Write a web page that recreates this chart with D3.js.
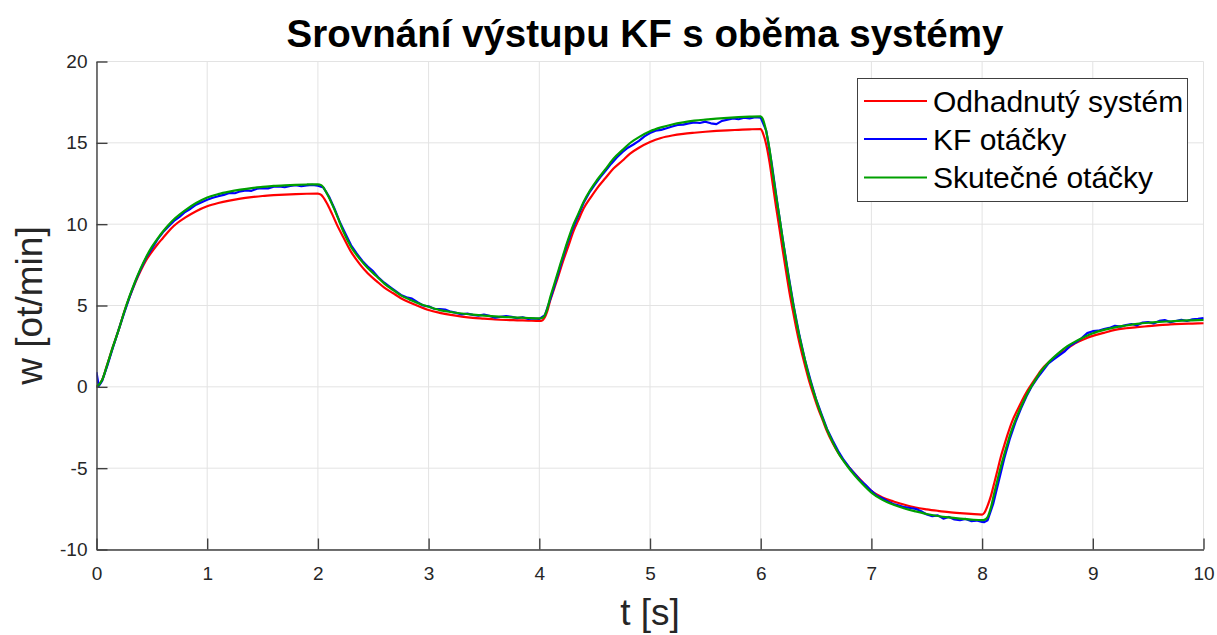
<!DOCTYPE html>
<html>
<head>
<meta charset="utf-8">
<script src="https://cdn.jsdelivr.net/npm/d3@7"></script>
<style>
  html, body { margin: 0; padding: 0; background: #ffffff; }
  svg { display: block; font-family: "Liberation Sans", Arial, Helvetica, sans-serif; }
</style>
</head>
<body>
<svg id="chart" width="1217" height="635"></svg>
<script>
// ---- texts and ticks ----
const chartTitle = "Srovnání výstupu KF s oběma systémy";
const xLabel = "t [s]";
const yLabel = "w [ot/min]";
const xTicks = [0, 1, 2, 3, 4, 5, 6, 7, 8, 9, 10];
const yTicks = [-10, -5, 0, 5, 10, 15, 20];
const seriesNames = ["Odhadnutý systém", "KF otáčky", "Skutečné otáčky"];
const seriesColors = ["#ff0000", "#0000ff", "#00a000"];

// ---- model output and measured speed (time in s, speed in ot/min) ----
const modelTime = [
  0, 0.05, 0.1, 0.15, 0.2, 0.25, 0.3, 0.35, 0.4, 0.45, 0.5, 0.55, 0.6, 0.65, 0.7, 0.8, 0.9, 1.0, 1.1, 1.2, 1.3, 1.4, 1.5, 1.6, 1.7, 1.8, 1.9, 2.0,
  2.03, 2.08, 2.13, 2.18, 2.23, 2.3, 2.38, 2.45, 2.53, 2.6, 2.68, 2.75, 2.83, 2.9, 3.0, 3.1, 3.2, 3.3, 3.4, 3.5, 3.6, 3.7, 3.8, 3.9, 4.0,
  4.03, 4.07, 4.1, 4.13, 4.16, 4.19, 4.22, 4.26, 4.31, 4.35, 4.4, 4.46, 4.52, 4.6, 4.67, 4.75, 4.82, 4.9, 5.0, 5.1, 5.2, 5.3, 5.4, 5.5, 5.6, 5.7, 5.8, 5.9, 6.0,
  6.02, 6.05, 6.08, 6.11, 6.14, 6.17, 6.2, 6.23, 6.26, 6.29, 6.32, 6.35, 6.38, 6.41, 6.44, 6.48, 6.52, 6.56, 6.6, 6.65, 6.7, 6.78, 6.85, 6.92, 7.0, 7.1, 7.2, 7.3, 7.4, 7.5, 7.6, 7.7, 7.8, 7.9, 8.0,
  8.02, 8.05, 8.08, 8.11, 8.14, 8.17, 8.2, 8.23, 8.27, 8.32, 8.36, 8.41, 8.47, 8.53, 8.6, 8.69, 8.77, 8.84, 8.92, 9.0, 9.1, 9.2, 9.3, 9.4, 9.5, 9.6, 9.7, 9.8, 9.9, 10.0
];
// Odhadnutý systém
const estimatedSpeed = [
  0, 0.4, 1.43, 2.5, 3.5, 4.6, 5.55, 6.4, 7.15, 7.8, 8.3, 8.75, 9.15, 9.55, 9.9, 10.4, 10.8, 11.1, 11.3, 11.45, 11.57, 11.66, 11.73, 11.78, 11.82, 11.85, 11.87, 11.88,
  11.8, 11.3, 10.6, 9.85, 9.2, 8.3, 7.53, 6.98, 6.5, 6.1, 5.75, 5.45, 5.18, 4.98, 4.72, 4.55, 4.42, 4.32, 4.24, 4.19, 4.14, 4.11, 4.09, 4.07, 4.05,
  4.1, 4.6, 5.34, 5.95, 6.56, 7.2, 7.83, 8.6, 9.59, 10.2, 10.96, 11.6, 12.19, 12.85, 13.42, 13.9, 14.34, 14.7, 15.05, 15.3, 15.45, 15.55, 15.62, 15.68, 15.73, 15.77, 15.8, 15.83, 15.85,
  15.6, 14.9, 13.8, 12.4, 11.0, 9.7, 8.35, 7.05, 5.8, 4.7, 3.65, 2.7, 1.85, 1.05, 0.3, -0.55, -1.35, -2.05, -2.75, -3.45, -4.05, -4.8, -5.35, -5.85, -6.4, -6.8, -7.05, -7.25, -7.42, -7.53, -7.62, -7.7, -7.76, -7.81, -7.85,
  -7.75, -7.3, -6.7, -5.91, -5.1, -4.28, -3.6, -2.94, -2.15, -1.41, -0.85, -0.23, 0.4, 1.0, 1.5, 1.96, 2.35, 2.68, 2.93, 3.13, 3.32, 3.5, 3.6, 3.67, 3.73, 3.79, 3.84, 3.87, 3.89, 3.91
];
// Skutečné otáčky
const actualSpeed = [
  0, 0.4, 1.43, 2.5, 3.5, 4.6, 5.6, 6.5, 7.3, 8.0, 8.6, 9.1, 9.55, 9.95, 10.3, 10.85, 11.3, 11.64, 11.85, 12.0, 12.12, 12.22, 12.29, 12.35, 12.39, 12.42, 12.44, 12.45,
  12.4, 11.9, 11.2, 10.4, 9.55, 8.6, 7.85, 7.3, 6.8, 6.35, 5.95, 5.62, 5.36, 5.15, 4.92, 4.72, 4.6, 4.51, 4.44, 4.38, 4.33, 4.29, 4.26, 4.23, 4.21,
  4.25, 4.75, 5.54, 6.2, 6.87, 7.55, 8.2, 9.05, 10.0, 10.6, 11.37, 12.1, 12.7, 13.4, 14.03, 14.55, 14.99, 15.35, 15.71, 15.95, 16.13, 16.26, 16.36, 16.43, 16.49, 16.54, 16.58, 16.61, 16.63,
  16.45, 15.7, 14.6, 13.1, 11.7, 10.4, 9.0, 7.7, 6.4, 5.2, 4.1, 3.1, 2.2, 1.35, 0.55, -0.35, -1.2, -1.95, -2.65, -3.4, -4.05, -4.85, -5.45, -5.97, -6.5, -6.95, -7.25, -7.48, -7.66, -7.82, -7.94, -8.03, -8.1, -8.16, -8.2,
  -8.18, -8.0, -7.4, -6.52, -5.7, -4.89, -4.15, -3.45, -2.6, -1.72, -1.1, -0.39, 0.3, 0.94, 1.5, 2.07, 2.5, 2.78, 3.05, 3.29, 3.5, 3.66, 3.77, 3.87, 3.94, 3.99, 4.03, 4.07, 4.09, 4.11
];

// ---- Kalman filter estimate ----
const kfTime = [
  0, 0.02, 0.05, 0.1, 0.15, 0.2, 0.25, 0.3, 0.35, 0.4, 0.45, 0.5, 0.55, 0.6, 0.65, 0.7, 0.75, 0.8, 0.85, 0.9, 0.95, 1.0,
  1.05, 1.1, 1.15, 1.2, 1.25, 1.3, 1.35, 1.4, 1.45, 1.5, 1.55, 1.6, 1.65, 1.7, 1.75, 1.8, 1.85, 1.9, 1.95, 2.0,
  2.05, 2.1, 2.15, 2.2, 2.25, 2.3, 2.35, 2.4, 2.45, 2.5, 2.55, 2.6, 2.65, 2.7, 2.75, 2.8, 2.85, 2.9, 2.95, 3.0,
  3.05, 3.1, 3.15, 3.2, 3.25, 3.3, 3.35, 3.4, 3.45, 3.5, 3.55, 3.6, 3.65, 3.7, 3.75, 3.8, 3.85, 3.9, 3.95, 4.0,
  4.05, 4.1, 4.15, 4.2, 4.25, 4.3, 4.35, 4.4, 4.45, 4.5, 4.55, 4.6, 4.65, 4.7, 4.75, 4.8, 4.85, 4.9, 4.95, 5.0,
  5.05, 5.1, 5.15, 5.2, 5.25, 5.3, 5.35, 5.4, 5.45, 5.5, 5.55, 5.6, 5.65, 5.7, 5.75, 5.8, 5.85, 5.9, 5.95, 6.0,
  6.05, 6.1, 6.15, 6.2, 6.25, 6.3, 6.35, 6.4, 6.45, 6.5, 6.55, 6.6, 6.65, 6.7, 6.75, 6.8, 6.85, 6.9, 6.95, 7.0,
  7.05, 7.1, 7.15, 7.2, 7.25, 7.3, 7.35, 7.4, 7.45, 7.5, 7.55, 7.6, 7.65, 7.7, 7.75, 7.8, 7.85, 7.9, 7.95, 8.0,
  8.02, 8.05, 8.1, 8.15, 8.2, 8.25, 8.3, 8.35, 8.4, 8.45, 8.5, 8.55, 8.6, 8.65, 8.7, 8.75, 8.8, 8.85, 8.9, 8.95, 9.0,
  9.05, 9.1, 9.15, 9.2, 9.25, 9.3, 9.35, 9.4, 9.45, 9.5, 9.55, 9.6, 9.65, 9.7, 9.75, 9.8, 9.85, 9.9, 9.95, 10.0
];
// KF otáčky
const kfSpeed = [
  0.9, 0.05, 0.35, 1.35, 2.45, 3.5, 4.55, 5.55, 6.45, 7.25, 7.95, 8.5, 9.05, 9.5, 9.85, 10.2, 10.45, 10.75, 10.95, 11.2, 11.35, 11.5,
  11.62, 11.72, 11.8, 11.92, 11.9, 12.02, 12.08, 12.05, 12.18, 12.22, 12.2, 12.3, 12.32, 12.27, 12.35, 12.4, 12.33, 12.38, 12.42, 12.36,
  12.25, 11.7, 10.95, 10.1, 9.4, 8.7, 8.2, 7.75, 7.4, 7.1, 6.7, 6.4, 6.15, 5.9, 5.65, 5.5, 5.42, 5.2, 5.0, 4.95,
  4.8, 4.78, 4.75, 4.62, 4.55, 4.45, 4.5, 4.42, 4.38, 4.44, 4.36, 4.25, 4.3, 4.35, 4.3, 4.22, 4.28, 4.18, 4.2, 4.18,
  4.4, 5.4, 6.5, 7.65, 8.75, 9.7, 10.5, 11.3, 11.92, 12.42, 12.88, 13.3, 13.72, 14.1, 14.42, 14.7, 14.9, 15.12, 15.4, 15.6,
  15.75, 15.8, 15.9, 16.0, 16.1, 16.12, 16.2, 16.25, 16.22, 16.3, 16.2, 16.15, 16.35, 16.42, 16.5, 16.45, 16.55, 16.5, 16.58, 16.55,
  15.75, 13.7, 11.3, 9.05, 6.9, 4.9, 3.15, 1.65, 0.4, -0.75, -1.7, -2.6, -3.3, -3.95, -4.5, -4.95, -5.35, -5.75, -6.05, -6.4,
  -6.7, -6.85, -7.05, -7.2, -7.3, -7.4, -7.45, -7.5, -7.65, -7.85, -7.95, -7.9, -8.1, -8.0, -8.15, -8.2, -8.12, -8.25, -8.22, -8.3,
  -8.32, -8.2, -7.2, -5.8, -4.4, -3.2, -2.2, -1.35, -0.6, 0.05, 0.55, 1.0, 1.45, 1.7, 1.95, 2.2, 2.55, 2.75, 3.0, 3.3, 3.42,
  3.45, 3.55, 3.62, 3.75, 3.7, 3.8, 3.86, 3.78, 3.95, 3.98, 3.9, 4.05, 4.1, 3.98, 4.05, 4.12, 4.05, 4.15, 4.18, 4.22
];

// ---- layout ----
const svg = d3.select("#chart");
const W = 1217, H = 635;
const plot = { left: 96.5, right: 1203.5, top: 61.5, bottom: 549.5 };
const axisColor = "#404040";
const gridColor = "#e3e3e3";

const x = d3.scaleLinear().domain([0, 10]).range([plot.left, plot.right]);
const y = d3.scaleLinear().domain([-10, 20]).range([plot.bottom, plot.top]);

svg.append("rect").attr("width", W).attr("height", H).attr("fill", "#ffffff");

// grid
const grid = svg.append("g");
grid.selectAll("line.gx").data(xTicks).join("line")
  .attr("x1", d => x(d)).attr("x2", d => x(d))
  .attr("y1", plot.top).attr("y2", plot.bottom)
  .attr("stroke", gridColor).attr("stroke-width", 1);
grid.selectAll("line.gy").data(yTicks).join("line")
  .attr("x1", plot.left).attr("x2", plot.right)
  .attr("y1", d => y(d)).attr("y2", d => y(d))
  .attr("stroke", gridColor).attr("stroke-width", 1);

// data lines
svg.append("clipPath").attr("id", "plotClip").append("rect")
  .attr("x", plot.left).attr("y", plot.top - 2)
  .attr("width", plot.right - plot.left + 2).attr("height", plot.bottom - plot.top + 2);
const lines = svg.append("g").attr("clip-path", "url(#plotClip)");

const smoothLine = d3.line().x(d => x(d[0])).y(d => y(d[1])).curve(d3.curveMonotoneX);
const rawLine = d3.line().x(d => x(d[0])).y(d => y(d[1]));

const estimatedPts = modelTime.map((t, i) => [t, estimatedSpeed[i]]);
const actualPts = modelTime.map((t, i) => [t, actualSpeed[i]]);
const kfPts = kfTime.map((t, i) => [t, kfSpeed[i]]);

lines.append("path").attr("d", smoothLine(estimatedPts))
  .attr("fill", "none").attr("stroke", seriesColors[0]).attr("stroke-width", 2.2).attr("stroke-linejoin", "round");
lines.append("path").attr("d", rawLine(kfPts))
  .attr("fill", "none").attr("stroke", seriesColors[1]).attr("stroke-width", 2.2).attr("stroke-linejoin", "round");
lines.append("path").attr("d", smoothLine(actualPts))
  .attr("fill", "none").attr("stroke", seriesColors[2]).attr("stroke-width", 2.2).attr("stroke-linejoin", "round");

// axes (ticks pointing into the plot); labels use a plain hyphen for negatives
const tickText = d => String(d);
const xAxis = d3.axisBottom(x).tickValues(xTicks).tickFormat(tickText)
  .tickSizeInner(-11).tickSizeOuter(0).tickPadding(17);
const yAxis = d3.axisLeft(y).tickValues(yTicks).tickFormat(tickText)
  .tickSizeInner(-11).tickSizeOuter(0).tickPadding(9);

const gx = svg.append("g").attr("transform", `translate(0,${plot.bottom})`).call(xAxis);
const gy = svg.append("g").attr("transform", `translate(${plot.left},0)`).call(yAxis);
[gx, gy].forEach(g => {
  g.select(".domain").attr("stroke", axisColor).attr("stroke-width", 1.4);
  g.selectAll(".tick line").attr("stroke", axisColor).attr("stroke-width", 1.4);
  g.selectAll(".tick text").attr("fill", "#262626")
    .style("font-size", "19px").style("font-family", "'Liberation Sans', Arial, sans-serif");
});

// title and axis labels
svg.append("text").attr("x", 645).attr("y", 47).attr("text-anchor", "middle")
  .style("font-size", "38.5px").style("font-weight", "bold").attr("fill", "#000")
  .text(chartTitle);
svg.append("text").attr("x", 650).attr("y", 625).attr("text-anchor", "middle")
  .style("font-size", "37px").attr("fill", "#262626").text(xLabel);
svg.append("text").attr("transform", "translate(42,305.5) rotate(-90)").attr("text-anchor", "middle")
  .style("font-size", "37px").attr("fill", "#262626").text(yLabel);

// legend
const legend = svg.append("g");
legend.append("rect").attr("x", 857.5).attr("y", 78.5).attr("width", 330).attr("height", 123)
  .attr("fill", "#ffffff").attr("stroke", "#404040").attr("stroke-width", 1);
const rowY = [101, 139, 177.5];
seriesNames.forEach((name, i) => {
  legend.append("line").attr("x1", 864).attr("x2", 927).attr("y1", rowY[i]).attr("y2", rowY[i])
    .attr("stroke", seriesColors[i]).attr("stroke-width", 2.2);
  legend.append("text").attr("x", 933).attr("y", rowY[i]).attr("dy", "0.35em")
    .style("font-size", "30px").attr("fill", "#000").text(name);
});
</script>
</body>
</html>
